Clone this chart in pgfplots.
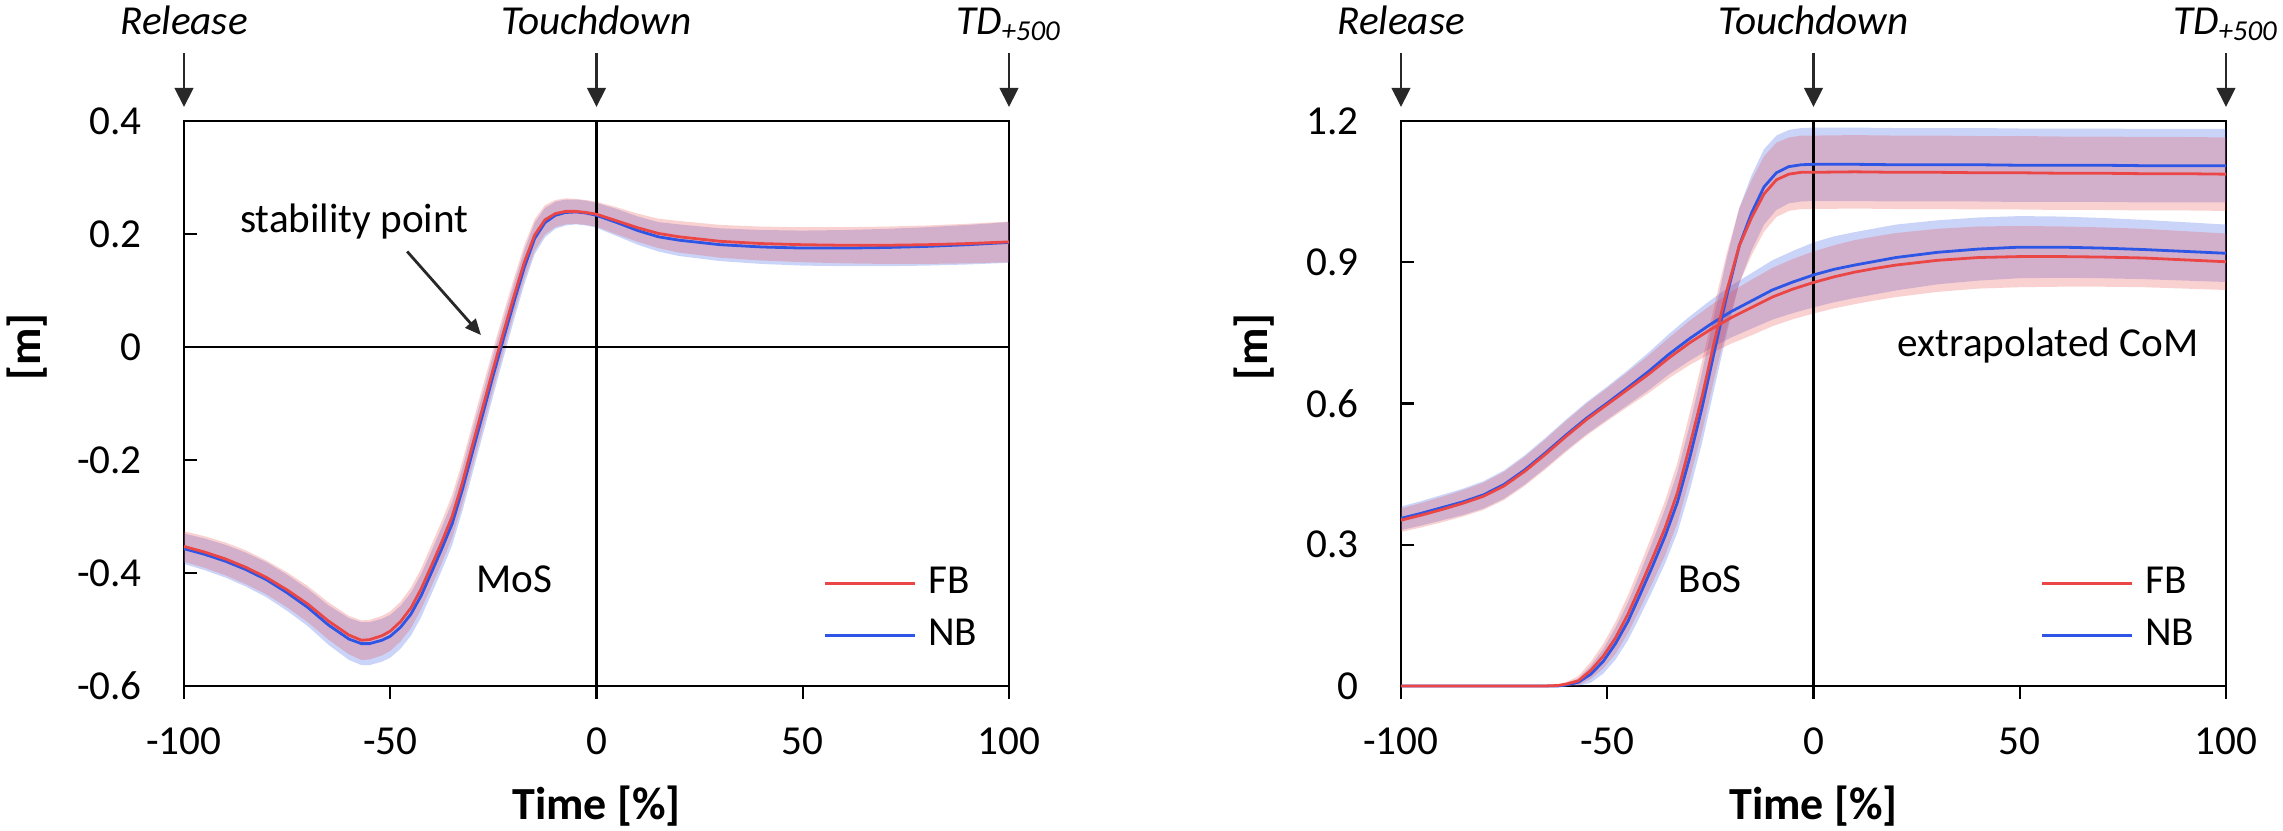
\documentclass[border=0pt]{standalone}
\usepackage{pgfplots}
\pgfplotsset{compat=1.18}
\usepackage{pgfplotstable}
\usepgfplotslibrary{fillbetween}
\usetikzlibrary{arrows.meta}
\usepackage{fontspec}
\setmainfont{Carlito}

\definecolor{fbred}{RGB}{235,70,70}
\definecolor{nbblue}{RGB}{45,85,230}
\definecolor{arrowgray}{RGB}{40,40,40}

% Margin of stability (MoS)
\pgfplotstableread{
x fb fbs nb nbs
-100 -0.353 0.027 -0.357 0.027
-95 -0.363 0.028 -0.367 0.028
-90 -0.375 0.029 -0.379 0.029
-85 -0.390 0.030 -0.394 0.030
-80 -0.408 0.030 -0.412 0.031
-75 -0.430 0.031 -0.435 0.032
-70 -0.455 0.032 -0.461 0.033
-65 -0.485 0.033 -0.492 0.035
-60 -0.510 0.034 -0.517 0.037
-57 -0.519 0.035 -0.525 0.038
-55 -0.518 0.035 -0.525 0.038
-52 -0.511 0.035 -0.519 0.038
-50 -0.503 0.035 -0.512 0.038
-47.5 -0.486 0.035 -0.496 0.038
-45 -0.462 0.036 -0.473 0.038
-42.5 -0.428 0.036 -0.440 0.038
-40 -0.387 0.037 -0.399 0.038
-37.5 -0.345 0.037 -0.357 0.038
-35 -0.300 0.038 -0.313 0.038
-32.5 -0.240 0.038 -0.252 0.038
-30 -0.172 0.038 -0.184 0.038
-27.5 -0.105 0.037 -0.117 0.037
-25 -0.038 0.036 -0.049 0.036
-22.5 0.027 0.034 0.016 0.034
-20 0.090 0.032 0.080 0.032
-17.5 0.150 0.030 0.141 0.030
-15 0.198 0.028 0.192 0.028
-12.5 0.225 0.026 0.220 0.026
-10 0.236 0.024 0.233 0.024
-7.5 0.240 0.023 0.238 0.023
-5 0.240 0.022 0.239 0.022
-2.5 0.238 0.022 0.237 0.022
0 0.235 0.022 0.233 0.022
5 0.223 0.024 0.220 0.024
10 0.211 0.025 0.206 0.025
15 0.201 0.026 0.195 0.026
20 0.195 0.028 0.189 0.028
30 0.187 0.029 0.181 0.029
40 0.183 0.030 0.177 0.030
50 0.181 0.031 0.175 0.031
60 0.180 0.032 0.175 0.032
70 0.180 0.033 0.176 0.033
80 0.181 0.034 0.178 0.034
90 0.183 0.035 0.181 0.035
100 0.186 0.036 0.185 0.036
}\mos

% Base of support (BoS)
\pgfplotstableread{
x fb fbs nb nbs
-100 0 0.002 0 0.002
-90 0 0.002 0 0.002
-80 0 0.002 0 0.002
-70 0 0.002 0 0.002
-65 0 0.002 0 0.002
-62 0.001 0.002 0.000 0.002
-60 0.004 0.004 0.002 0.002
-57 0.011 0.010 0.008 0.008
-54 0.033 0.018 0.025 0.018
-51 0.063 0.026 0.052 0.026
-48 0.102 0.034 0.090 0.034
-45 0.152 0.040 0.137 0.040
-42 0.211 0.046 0.195 0.046
-39 0.272 0.052 0.255 0.052
-36 0.335 0.058 0.318 0.058
-33 0.410 0.064 0.390 0.064
-30 0.510 0.070 0.485 0.070
-27 0.615 0.075 0.592 0.075
-24 0.733 0.078 0.712 0.078
-21 0.840 0.080 0.830 0.080
-18 0.935 0.080 0.935 0.080
-15 0.995 0.080 1.005 0.080
-12 1.045 0.080 1.060 0.080
-9 1.075 0.079 1.090 0.079
-6 1.087 0.078 1.103 0.078
-3 1.091 0.078 1.107 0.078
0 1.091 0.078 1.108 0.078
10 1.092 0.078 1.108 0.078
20 1.091 0.078 1.107 0.078
30 1.091 0.078 1.107 0.078
40 1.090 0.078 1.107 0.078
50 1.090 0.078 1.106 0.078
60 1.089 0.078 1.106 0.078
70 1.089 0.078 1.106 0.078
80 1.088 0.078 1.105 0.078
90 1.088 0.078 1.105 0.078
100 1.087 0.078 1.105 0.078
}\bos

% extrapolated CoM
\pgfplotstableread{
x fb fbs nb nbs
-100 0.352 0.025 0.356 0.025
-95 0.363 0.026 0.367 0.026
-90 0.375 0.027 0.379 0.027
-85 0.388 0.028 0.391 0.028
-80 0.403 0.029 0.406 0.029
-75 0.425 0.030 0.428 0.030
-70 0.456 0.031 0.459 0.031
-65 0.492 0.032 0.495 0.032
-60 0.530 0.033 0.533 0.033
-55 0.566 0.034 0.569 0.034
-50 0.598 0.035 0.601 0.035
-45 0.630 0.037 0.634 0.037
-40 0.662 0.040 0.668 0.040
-35 0.697 0.043 0.705 0.043
-30 0.729 0.047 0.738 0.047
-25 0.757 0.051 0.768 0.051
-20 0.782 0.055 0.795 0.055
-15 0.804 0.059 0.818 0.059
-10 0.826 0.062 0.841 0.063
-5 0.843 0.064 0.858 0.066
0 0.857 0.066 0.873 0.069
5 0.869 0.067 0.885 0.070
10 0.879 0.068 0.894 0.070
15 0.887 0.068 0.902 0.070
20 0.894 0.068 0.910 0.070
30 0.904 0.067 0.921 0.068
40 0.910 0.066 0.928 0.067
50 0.912 0.065 0.932 0.066
60 0.912 0.064 0.932 0.065
70 0.911 0.063 0.930 0.064
80 0.909 0.062 0.927 0.063
90 0.905 0.061 0.923 0.062
100 0.901 0.060 0.919 0.061
}\com

\newcommand{\band}[5]{% table, mean, sd, colour, name
  \addplot[draw=none, forget plot, name path=#5u] table[x=x, y expr=\thisrow{#2}+\thisrow{#3}] {#1};
  \addplot[draw=none, forget plot, name path=#5l] table[x=x, y expr=\thisrow{#2}-\thisrow{#3}] {#1};
  \addplot[fill=#4, fill opacity=0.25, draw=none, forget plot] fill between[of=#5u and #5l];
}

\newcommand{\fs}{\fontsize{10.3}{12}\selectfont}
\newcommand{\lfs}{\bfseries\fontsize{11.5}{13}\selectfont}

\tikzset{
  evarrow/.style={line width=0.7pt, arrowgray, -{Triangle[length=4.75pt,width=4.6pt]}},
  evlabel/.style={anchor=base, font=\itshape\fs},
}

\pgfplotsset{
  myaxis/.style={
    scale only axis, width=206.25pt, height=141.25pt,
    xmin=-100, xmax=100, xtick={-100,-50,0,50,100},
    xtick pos=left, ytick pos=left,
    tick align=inside, major tick length=3.25pt,
    xtick style={yshift=-3.25pt},
    tick style={black, line width=0.55pt},
    axis line style={line width=0.6pt},
    /pgf/number format/assume math mode=true,
    tick label style={font=\fs},
    yticklabel style={xshift=-7pt},
    xticklabel style={yshift=-7pt},
    clip=false,
    legend style={draw=none, fill=none, at={(0.774,0.136)}, anchor=west,
      inner sep=0pt, row sep=4pt, column sep=3pt, font=\fs,
      nodes={inner sep=0pt, text height=7pt, text depth=2pt}},
    legend cell align=left,
    legend image code/.code={\draw[##1, line width=0.7pt] (0pt,0pt) -- (22.5pt,0pt);},
  },
}

\begin{document}
\begin{tikzpicture}

% ---------------- Left: MoS ----------------
\begin{axis}[myaxis, at={(46pt,36.25pt)}, anchor=south west,
  ymin=-0.6, ymax=0.4, ytick={-0.6,-0.4,-0.2,0,0.2,0.4}]
  \band{\mos}{nb}{nbs}{nbblue}{mb}
  \band{\mos}{fb}{fbs}{fbred}{mr}
  \addplot[black, line width=0.55pt, forget plot] coordinates {(-100,0) (100,0)};
  \addplot[black, line width=0.55pt, forget plot] coordinates {(0,-0.6) (0,0.4)};
  \addplot[nbblue, line width=0.7pt, forget plot] table[x=x, y=nb] {\mos};
  \addplot[fbred, line width=0.7pt] table[x=x, y=fb] {\mos};
  \addlegendentry{FB}
  \addlegendimage{nbblue, line width=0.7pt}\addlegendentry{NB}

  \node[anchor=base, font=\fs] at (axis cs:-58.7,0.202) {stability point};
  \draw[line width=0.7pt, arrowgray, -{Triangle[length=4pt,width=3.4pt]}] (axis cs:-45.9,0.169) -- (axis cs:-28.0,0.021);
  \node[anchor=base, font=\fs] at (axis cs:-19.9,-0.435) {MoS};

  \draw[evarrow] ([yshift=17pt]axis cs:-100,0.4) -- ([yshift=3.5pt]axis cs:-100,0.4);
  \draw[evarrow] ([yshift=17pt]axis cs:0,0.4) -- ([yshift=3.5pt]axis cs:0,0.4);
  \draw[evarrow] ([yshift=17pt]axis cs:100,0.4) -- ([yshift=3.5pt]axis cs:100,0.4);
  \node[evlabel] at ([yshift=21.5pt]axis cs:-100,0.4) {Release};
  \node[evlabel] at ([yshift=21.5pt]axis cs:0,0.4) {Touchdown};
  \node[evlabel] at ([yshift=21.5pt]axis cs:100,0.4) {TD\textsubscript{+500}};

  \node[rotate=90, font=\lfs] at ([xshift=-39.25pt]axis cs:-100,0.0) {[m]};
  \node[font=\lfs] at ([yshift=-30pt]axis cs:0,-0.6) {Time [\%]};
\end{axis}

% ---------------- Right: BoS / XCoM ----------------
\begin{axis}[myaxis, at={(350.25pt,36.25pt)}, anchor=south west,
  ymin=0, ymax=1.2, ytick={0,0.3,0.6,0.9,1.2}]
  \band{\bos}{nb}{nbs}{nbblue}{bb}
  \band{\com}{nb}{nbs}{nbblue}{cb}
  \band{\bos}{fb}{fbs}{fbred}{br}
  \band{\com}{fb}{fbs}{fbred}{cr}
  \addplot[black, line width=0.55pt, forget plot] coordinates {(0,0) (0,1.2)};
  \addplot[nbblue, line width=0.7pt, forget plot] table[x=x, y=nb] {\bos};
  \addplot[nbblue, line width=0.7pt, forget plot] table[x=x, y=nb] {\com};
  \addplot[fbred, line width=0.7pt, forget plot] table[x=x, y=fb] {\com};
  \addplot[fbred, line width=0.7pt] table[x=x, y=fb] {\bos};
  \addlegendentry{FB}
  \addlegendimage{nbblue, line width=0.7pt}\addlegendentry{NB}

  \node[anchor=base east, font=\fs] at (axis cs:96.8,0.70) {extrapolated CoM};
  \node[anchor=base, font=\fs] at (axis cs:-25,0.198) {BoS};

  \draw[evarrow] ([yshift=17pt]axis cs:-100,1.2) -- ([yshift=3.5pt]axis cs:-100,1.2);
  \draw[evarrow] ([yshift=17pt]axis cs:0,1.2) -- ([yshift=3.5pt]axis cs:0,1.2);
  \draw[evarrow] ([yshift=17pt]axis cs:100,1.2) -- ([yshift=3.5pt]axis cs:100,1.2);
  \node[evlabel] at ([yshift=21.5pt]axis cs:-100,1.2) {Release};
  \node[evlabel] at ([yshift=21.5pt]axis cs:0,1.2) {Touchdown};
  \node[evlabel] at ([yshift=21.5pt]axis cs:100,1.2) {TD\textsubscript{+500}};

  \node[rotate=90, font=\lfs] at ([xshift=-36.75pt]axis cs:-100,0.72) {[m]};
  \node[font=\lfs] at ([yshift=-30pt]axis cs:0,0) {Time [\%]};
\end{axis}

\pgfresetboundingbox
\path (0,0) rectangle (570.75pt,207.75pt);
\end{tikzpicture}
\end{document}
